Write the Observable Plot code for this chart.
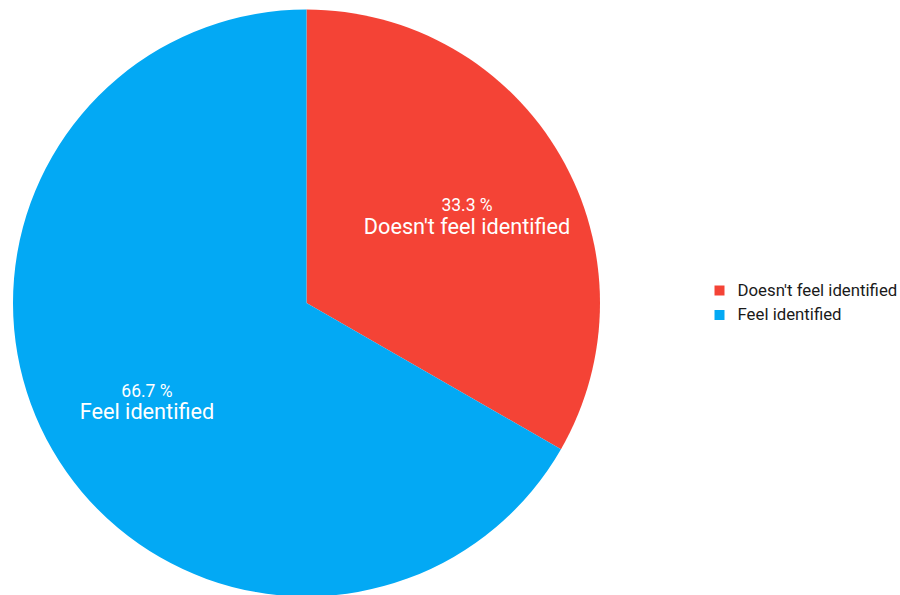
<!DOCTYPE html>
<html><head><meta charset="utf-8">
<script src="https://cdn.jsdelivr.net/npm/d3@7"></script>
<script src="https://cdn.jsdelivr.net/npm/@observablehq/plot@0.6"></script>
<style>html,body{margin:0;padding:0;background:#fff;} svg{display:block}</style>
</head><body><div id="chart"></div>
<script>
const categories = ["Doesn't feel identified", "Feel identified"];
const values = [33.3, 66.7];
const colors = ["#F44336", "#03A9F4"];

const data = categories.map((c, i) => ({category: c, value: values[i]}));
const pie = d3.pie().sort(null).value(d => d.value)(data);
const labelR = 0.63;
const labels = pie.map(p => {
  const a = (p.startAngle + p.endAngle) / 2;
  return {category: p.data.category, pct: p.data.value.toFixed(1) + " %", x: labelR * Math.sin(a), y: labelR * Math.cos(a)};
});

// layout: pie centre and radius in pixels
const CX = 306.5, CY = 303, R = 293.5;
const ux = px => (px - CX) / R;
const uy = py => (CY - py) / R;

function pieMark(index, scales) {
  const {x, y} = scales;
  const color = scales.color || (c => colors[categories.indexOf(c)]);
  const cx = x(0), cy = y(0), r = x(1) - x(0);
  const arc = d3.arc().innerRadius(0).outerRadius(r);
  const g = d3.create("svg:g").attr("transform", `translate(${cx},${cy})`);
  g.selectAll("path").data(pie).join("path")
    .attr("d", arc)
    .attr("fill", d => color(d.data.category));
  return g.node();
}

const chart = Plot.plot({
  width: 900, height: 595,
  marginTop: 0, marginRight: 0, marginBottom: 0, marginLeft: 0,
  style: {fontFamily: "Roboto", background: "#fff"},
  x: {domain: [-1, 1], range: [CX - R, CX + R], axis: null},
  y: {domain: [-1, 1], range: [CY + R, CY - R], axis: null},
  color: {domain: categories, range: colors},
  marks: [
    pieMark,
    Plot.text(labels, {x: "x", y: "y", text: "pct", fill: "white", fontSize: 17.5, dy: -5}),
    Plot.text(labels, {x: "x", y: "y", text: "category", fill: "white", fontSize: 21.7, dy: 16}),
    Plot.dot(categories, {x: ux(719), y: (d, i) => uy(290 + i * 24.5), fill: d => d, symbol: "square", r: 5.64}),
    Plot.text(categories, {x: ux(737), y: (d, i) => uy(290 + i * 24.5), text: d => d, textAnchor: "start", fontSize: 16.8, fill: "#1a1a1a"})
  ]
});
document.getElementById("chart").appendChild(chart);
</script>
</body></html>
